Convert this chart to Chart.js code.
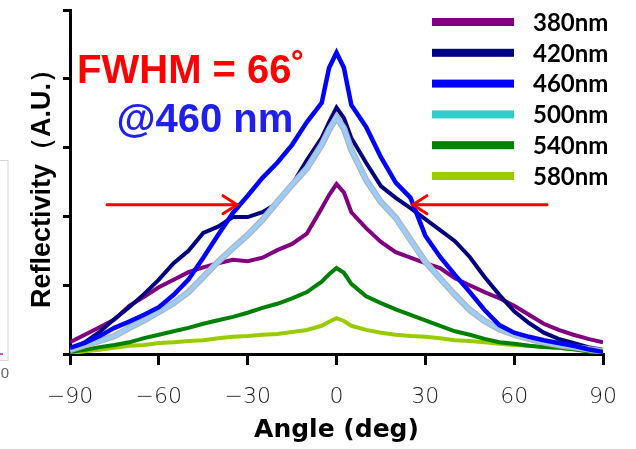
<!DOCTYPE html>
<html><head><meta charset="utf-8">
<script src="https://cdn.jsdelivr.net/npm/chart.js@4.4.0/dist/chart.umd.min.js"></script>
<style>html,body{margin:0;padding:0;background:#fff;overflow:hidden}#wrap{width:636px;height:449px}</style>
</head><body><div id="wrap"><canvas id="c" width="636" height="449"></canvas></div>
<script>
// ---- data ----
const angles = [-90,-85,-80,-75,-70,-65,-60,-55,-50,-45,-40,-35,-30,-25,-20,-15,-10,-5,-2.5,0,2.5,5,10,15,20,25,30,35,40,45,50,55,60,65,70,75,80,85,90];
const r380 = [0.17,0.28,0.39,0.50,0.70,0.83,0.97,1.08,1.19,1.26,1.32,1.37,1.35,1.40,1.51,1.60,1.75,2.12,2.31,2.47,2.35,2.06,1.83,1.63,1.48,1.40,1.32,1.25,1.10,1.00,0.90,0.81,0.70,0.57,0.44,0.35,0.28,0.22,0.17];
const r420 = [0.07,0.17,0.32,0.51,0.68,0.87,1.08,1.32,1.50,1.76,1.85,1.99,1.99,2.06,2.19,2.46,2.82,3.14,3.37,3.58,3.43,3.14,2.78,2.44,2.27,2.12,1.96,1.80,1.64,1.41,1.12,0.86,0.62,0.45,0.31,0.22,0.16,0.10,0.06];
const r460 = [0.09,0.16,0.26,0.38,0.47,0.57,0.68,0.86,1.08,1.40,1.73,2.05,2.30,2.56,2.78,3.04,3.37,3.65,4.16,4.38,4.16,3.62,3.30,2.86,2.49,2.27,1.72,1.41,1.15,0.90,0.64,0.42,0.31,0.25,0.20,0.16,0.12,0.07,0.03];
const r500 = [0.06,0.13,0.19,0.26,0.38,0.49,0.61,0.74,0.90,1.12,1.34,1.54,1.73,1.95,2.21,2.46,2.70,3.04,3.26,3.44,3.28,2.97,2.53,2.21,1.98,1.66,1.34,1.10,0.86,0.64,0.48,0.36,0.28,0.22,0.17,0.13,0.10,0.07,0.04];
const r540 = [0.03,0.06,0.10,0.13,0.17,0.23,0.28,0.33,0.38,0.44,0.49,0.54,0.60,0.67,0.73,0.81,0.90,1.05,1.16,1.25,1.18,1.02,0.84,0.74,0.65,0.57,0.49,0.41,0.33,0.28,0.22,0.17,0.15,0.12,0.10,0.09,0.07,0.04,0.01];
const r580 = [0.01,0.04,0.06,0.09,0.12,0.13,0.16,0.17,0.19,0.20,0.23,0.25,0.26,0.28,0.29,0.32,0.35,0.41,0.47,0.52,0.48,0.41,0.35,0.31,0.28,0.26,0.25,0.23,0.20,0.19,0.17,0.15,0.13,0.12,0.10,0.09,0.07,0.04,0.03];
const seriesLabels = ['380nm','420nm','460nm','500nm','540nm','580nm'];
const xTicks = [-90,-60,-30,0,30,60,90];
const yTicks = [0,1,2,3,4,5];

// ---- styles ----
const lineColors = ['#800080','#000080','#0000ff','#99ccff','#008000','#99cc00'];
const legendColors = ['#800080','#000080','#0000ff','#33cccc','#008000','#99cc00'];
const seriesValues = [r380,r420,r460,r500,r540,r580];
const drawOrder = [4,3,0,1,5,6];

const pts = arr => angles.map((a,i)=>({x:a,y:arr[i]}));
const datasets = seriesValues.map((v,i)=>({
  label: seriesLabels[i], data: pts(v), borderColor: lineColors[i],
  borderWidth: i===2 ? 4.5 : 4, pointRadius:0, tension:0, fill:false, order: drawOrder[i]
}));
// grey outline under the 500 nm curve
datasets.push({label:'_outline', data: pts(r500), borderColor:'#b4b4b4', borderWidth:6.5, pointRadius:0, tension:0, fill:false, order:2});

const annot = {
  id:'annot',
  afterDraw(chart){
    const {ctx, scales:{x,y}, chartArea:ca} = chart;
    ctx.save();
    // annotation texts
    ctx.textBaseline = 'alphabetic'; ctx.textAlign = 'left';
    ctx.font = 'bold 40px "Liberation Sans", Arial, sans-serif';
    ctx.fillStyle = '#ff0000';
    ctx.fillText('FWHM = 66\u02DA', x.getPixelForValue(-87.6), y.getPixelForValue(3.94));
    ctx.fillStyle = '#2020ee';
    ctx.fillText('@460 nm', x.getPixelForValue(-74.3), y.getPixelForValue(3.23));
    // arrows
    const arrow = (a0, a1, v) => {
      const x0 = x.getPixelForValue(a0), x1 = x.getPixelForValue(a1), yy = y.getPixelForValue(v);
      const d = Math.sign(x1-x0);
      ctx.strokeStyle = '#ff0000'; ctx.lineWidth = 3; ctx.lineCap='round';
      ctx.beginPath(); ctx.moveTo(x0,yy); ctx.lineTo(x1,yy); ctx.stroke();
      ctx.beginPath(); ctx.moveTo(x1-d*14,yy-9); ctx.lineTo(x1,yy); ctx.lineTo(x1-d*14,yy+9); ctx.stroke();
    };
    arrow(-77.5,-33.6,2.17);
    arrow(71.1,25.8,2.17);
    // legend
    const lx = ca.right-171, ly = ca.top+12;
    ctx.font = 'bold 24px Lato, "Liberation Sans", sans-serif';
    ctx.textBaseline = 'middle';
    seriesLabels.forEach((t,i)=>{
      const yy = ly + i*30.8;
      ctx.fillStyle = legendColors[i];
      ctx.fillRect(lx, yy-4, 82, 8);
      ctx.fillStyle = '#000';
      ctx.fillText(t, lx+101, yy+1);
    });
    // cropped neighbour-figure fragment at the left edge
    ctx.strokeStyle = '#d6d6d6'; ctx.lineWidth = 1;
    ctx.strokeRect(-2.5, 160.5, 10.5, 200);
    ctx.fillStyle = '#cc55cc'; ctx.fillRect(0,353,3,2);
    ctx.fillStyle = '#666'; ctx.font = '15px "Liberation Sans", sans-serif'; ctx.textAlign='right';
    ctx.fillText('00', 9, 374);
    ctx.restore();
  }
};

new Chart(document.getElementById('c'), {
  type:'line',
  data:{datasets},
  options:{
    responsive:false, animation:false, devicePixelRatio:1,
    layout:{padding:{left:0,right:33,top:10,bottom:0}},
    plugins:{legend:{display:false}, tooltip:{enabled:false}},
    scales:{
      x:{type:'linear', min:-90, max:90,
        afterBuildTicks: s => { s.ticks = xTicks.map(v=>({value:v})); },
        afterFit: s => { s.height = 95; },
        grid:{drawOnChartArea:false, drawTicks:true, tickLength:11, lineWidth:3, color:'#000'},
        border:{display:true, width:3, color:'#000'},
        ticks:{padding:19, maxRotation:0, color:'#1a1a1a', font:{family:'"DejaVu Sans", sans-serif', size:22, weight:'200'},
          callback: v => (v<0 ? '\u2212'+Math.abs(v) : String(v))},
        title:{display:true, text:'Angle (deg)', color:'#000', padding:{top:0,bottom:4},
          font:{family:'"DejaVu Sans", sans-serif', size:25, weight:'bold'}}
      },
      y:{min:0, max:5,
        afterBuildTicks: s => { s.ticks = yTicks.map(v=>({value:v})); },
        afterFit: s => { s.width = 70; },
        grid:{drawOnChartArea:false, drawTicks:true, tickLength:7, lineWidth:3, color:'#000'},
        border:{display:true, width:3, color:'#000'},
        ticks:{display:false},
        title:{display:true, text:'Reflectivity\uFF08A.U.\uFF09', color:'#000', padding:{top:26,bottom:0},
          font:{family:'"Liberation Sans", Arial, sans-serif', size:27, weight:'bold'}}
      }
    }
  },
  plugins:[annot]
});
</script></body></html>
